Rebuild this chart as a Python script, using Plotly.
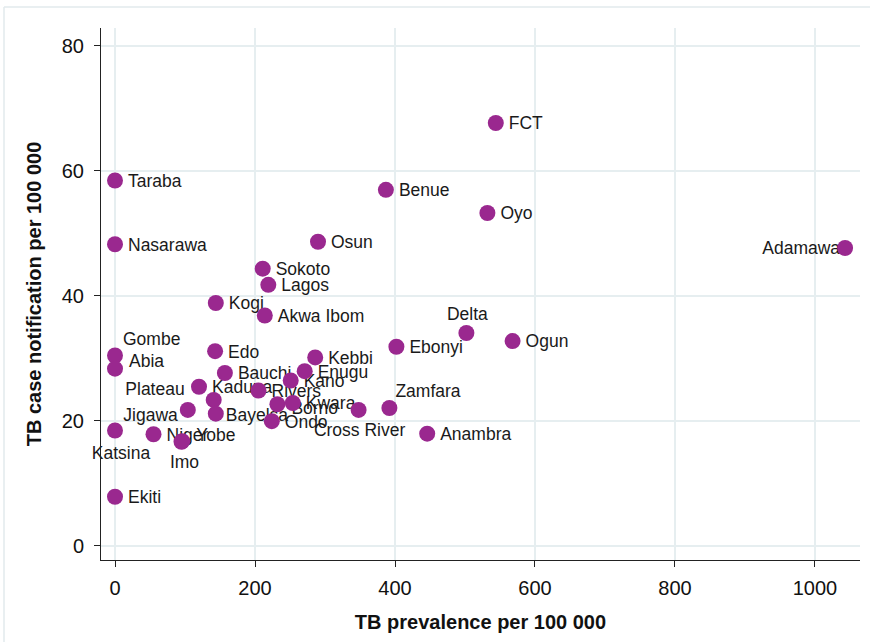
import plotly.graph_objects as go

# TB prevalence vs case notification rates by Nigerian state (per 100 000)
states = ["FCT", "Taraba", "Benue", "Oyo", "Adamawa", "Nasarawa", "Osun",
          "Sokoto", "Lagos", "Kogi", "Akwa Ibom", "Delta", "Ogun", "Ebonyi",
          "Gombe", "Abia", "Edo", "Kebbi", "Enugu", "Bauchi", "Kano",
          "Kaduna", "Rivers", "Plateau", "Jigawa", "Bayelsa", "Borno",
          "Kwara", "Ondo", "Cross River", "Zamfara", "Anambra", "Niger",
          "Imo", "Yobe", "Katsina", "Ekiti"]
prevalence = [544, 0, 387, 532, 1043, 0, 290,
              211, 219, 144, 214, 502, 568, 402,
              0, 0, 143, 286, 271, 157, 251,
              120, 205, 141, 104, 144, 232,
              254, 224, 348, 392, 446, 55,
              95, 96, 0, 0]
notification = [67.6, 58.4, 56.9, 53.2, 47.6, 48.2, 48.6,
                44.3, 41.7, 38.8, 36.8, 34.0, 32.7, 31.8,
                30.4, 28.3, 31.1, 30.1, 27.9, 27.6, 26.4,
                25.4, 24.8, 23.3, 21.7, 21.1, 22.6,
                22.8, 19.9, 21.7, 22.0, 17.9, 17.8,
                16.6, 16.7, 18.4, 7.8]

x_ticks = [0, 200, 400, 600, 800, 1000]
y_ticks = [0, 20, 40, 60, 80]

# label placement: (dx px, dy px downward, anchor) relative to each marker
DEFAULT_LABEL = (13, 2, "l")
label_place = {
    "Gombe": (8, -15, "l"),
    "Abia": (14, -6, "l"),
    "Delta": (1, -17, "c"),
    "Plateau": (-29, -9, "r"),
    "Jigawa": (-10, 7, "r"),
    "Zamfara": (6, -15, "l"),
    "Cross River": (1, 22, "c"),
    "Imo": (3, 22, "c"),
    "Katsina": (6, 24, "c"),
    "Adamawa": (-5, 2, "r"),
    "Bayelsa": (10, 3, "l"),
    "Borno": (14, 5, "l"),
    "Yobe": (14, -5, "l"),
}

W, H = 870, 642
M = dict(l=101, r=10, t=28, b=82)
x_range = [-20, 1064.3]
y_range = [-2.32, 82.8]
px_x = (W - M["l"] - M["r"]) / (x_range[1] - x_range[0])
px_y = (H - M["t"] - M["b"]) / (y_range[1] - y_range[0])

anchor_pos = {"l": "middle right", "r": "middle left", "c": "middle center"}
lab_x, lab_y, lab_pos = [], [], []
for s, xv, yv in zip(states, prevalence, notification):
    dx, dy, a = label_place.get(s, DEFAULT_LABEL)
    lab_x.append(xv + dx / px_x)
    lab_y.append(yv - dy / px_y)
    lab_pos.append(anchor_pos[a])

purple = "#9A288F"
fig = go.Figure()
fig.add_trace(go.Scatter(
    x=lab_x, y=lab_y, mode="text", text=states, textposition=lab_pos,
    textfont=dict(family="Liberation Sans, Arial, sans-serif", size=17.5, color="#1a1a1a"),
    hoverinfo="skip", cliponaxis=False, showlegend=False))
fig.add_trace(go.Scatter(
    x=prevalence, y=notification, mode="markers", text=states,
    marker=dict(size=16, color=purple, line=dict(width=0)),
    cliponaxis=False, showlegend=False))

grid = "#E6EEF0"
axis_common = dict(
    showline=True, linecolor="#222", linewidth=1, mirror=False,
    ticks="outside", ticklen=6, tickwidth=1, tickcolor="#222",
    showgrid=True, gridcolor=grid, gridwidth=1.5, zeroline=False,
    tickfont=dict(family="Liberation Sans, Arial, sans-serif", size=20, color="#111"),
)
fig.update_xaxes(range=x_range, tickvals=x_ticks, ticklabelstandoff=4,
                 title=dict(text="<b>TB prevalence per 100 000</b>", standoff=16,
                            font=dict(family="Liberation Sans, Arial, sans-serif", size=20, color="#111")),
                 **axis_common)
fig.update_yaxes(range=y_range, tickvals=y_ticks, ticklabelstandoff=6,
                 title=dict(text="<b>TB case notification per 100 000</b>", standoff=14,
                            font=dict(family="Liberation Sans, Arial, sans-serif", size=20, color="#111")),
                 **axis_common)

# outer graph-region border (top and left edges)
pw = W - M["l"] - M["r"]
ph = H - M["t"] - M["b"]
left_x = (4 - M["l"]) / pw
top_y = (H - M["b"] - 7) / ph
fig.add_shape(type="line", xref="paper", yref="paper", x0=left_x, x1=1.02,
              y0=top_y, y1=top_y, line=dict(color="#E2EAEC", width=1.5), layer="below")
fig.add_shape(type="line", xref="paper", yref="paper", x0=left_x, x1=left_x,
              y0=-0.2, y1=top_y, line=dict(color="#E2EAEC", width=1.5), layer="below")

fig.update_layout(width=W, height=H, margin=M, plot_bgcolor="white",
                  paper_bgcolor="white", showlegend=False)
fig.write_html("out.html")
